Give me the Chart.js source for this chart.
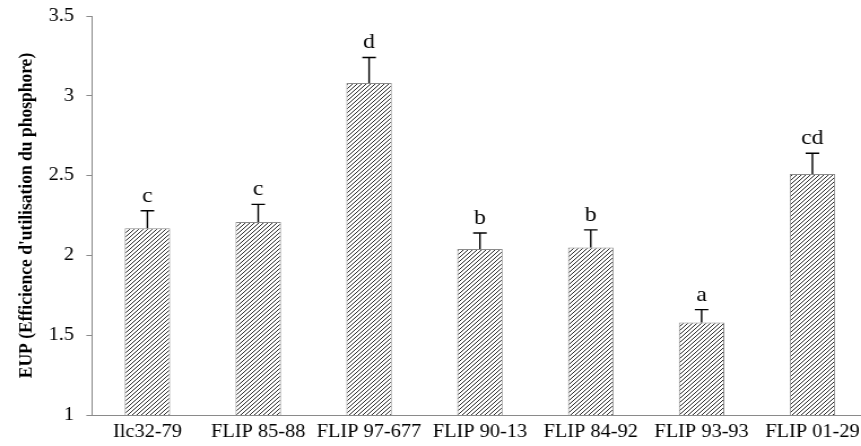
<!DOCTYPE html>
<html>
<head>
<meta charset="utf-8">
<script src="https://cdn.jsdelivr.net/npm/chart.js@4"></script>
<style>
  html, body { margin: 0; padding: 0; background: #fff; overflow: hidden; }
  /* the original figure is slightly stretched sideways */
  #wrap { width: 770px; height: 446px; transform: scaleX(1.13); transform-origin: 0 0; }
</style>
</head>
<body>
<div id="wrap"><canvas id="eupChart"></canvas></div>
<script>
// Data
const genotypes = ['Ilc32-79', 'FLIP 85-88', 'FLIP 97-677', 'FLIP 90-13', 'FLIP 84-92', 'FLIP 93-93', 'FLIP 01-29'];
const eupMeans = [2.17, 2.21, 3.08, 2.04, 2.05, 1.58, 2.51];
const eupErrors = [0.11, 0.11, 0.16, 0.10, 0.11, 0.08, 0.13];
const groupLetters = ['c', 'c', 'd', 'b', 'b', 'a', 'cd'];
const yTicks = [1, 1.5, 2, 2.5, 3, 3.5];

const serif = '"Liberation Serif", "Times New Roman", serif';

// Hatched fill (///)
function makeHatch() {
    const size = 4;
    const c = document.createElement('canvas');
    c.width = size;
    c.height = size;
    const g = c.getContext('2d');
    g.fillStyle = '#fff';
    g.fillRect(0, 0, size, size);
    g.strokeStyle = '#2a2a2a';
    g.lineWidth = 1;
    g.beginPath();
    g.moveTo(0, size); g.lineTo(size, 0);
    g.moveTo(-1, 1); g.lineTo(1, -1);
    g.moveTo(size - 1, size + 1); g.lineTo(size + 1, size - 1);
    g.stroke();
    return g.createPattern(c, 'repeat');
}

// Error bars + letters drawn through the scales
const errorBarPlugin = {
    id: 'errorBars',
    afterDatasetsDraw(chart) {
        const ctx = chart.ctx;
        const yScale = chart.scales.y;
        const meta = chart.getDatasetMeta(0);
        ctx.save();
        meta.data.forEach((bar, i) => {
            const x = bar.x;
            const yTop = yScale.getPixelForValue(eupMeans[i] + eupErrors[i]);
            ctx.strokeStyle = '#000';
            ctx.lineWidth = 1.4;
            ctx.beginPath();
            ctx.moveTo(x, bar.y);
            ctx.lineTo(x, yTop);
            ctx.moveTo(x - 6, yTop);
            ctx.lineTo(x + 6, yTop);
            ctx.stroke();

            ctx.fillStyle = '#000';
            ctx.font = '21px ' + serif;
            ctx.textAlign = 'center';
            ctx.textBaseline = 'alphabetic';
            ctx.fillText(groupLetters[i], x, yTop - 9);
        });
        ctx.restore();
    }
};

const ctx = document.getElementById('eupChart').getContext('2d');
new Chart(ctx, {
    type: 'bar',
    data: {
        labels: genotypes,
        datasets: [{
            data: eupMeans,
            backgroundColor: makeHatch(),
            borderColor: '#8a8a8a',
            borderWidth: 1,
            barPercentage: 0.41,
            categoryPercentage: 1.0
        }]
    },
    options: {
        responsive: true,
        maintainAspectRatio: false,
        animation: false,
        layout: { padding: { top: 16, right: 2, left: 0, bottom: 0 } },
        plugins: {
            legend: { display: false },
            tooltip: { enabled: false }
        },
        scales: {
            x: {
                grid: { display: false, drawTicks: false },
                border: { color: '#8a8a8a', width: 1 },
                ticks: {
                    color: '#000',
                    padding: 6,
                    maxRotation: 0,
                    autoSkip: false,
                    font: { family: serif, size: 18 }
                },
                afterFit(scale) {
                    scale.height = 31;
                    scale.paddingLeft = 0;
                    scale.paddingRight = 0;
                }
            },
            y: {
                min: 1,
                max: 3.5,
                afterBuildTicks(scale) {
                    scale.ticks = yTicks.map(v => ({ value: v }));
                },
                grid: {
                    display: true,
                    drawOnChartArea: false,
                    drawTicks: true,
                    tickLength: 5,
                    color: '#8a8a8a'
                },
                border: { color: '#8a8a8a', width: 1 },
                ticks: {
                    color: '#000',
                    padding: 11,
                    font: { family: serif, size: 18 },
                    callback: v => String(v)
                },
                title: {
                    display: true,
                    text: "EUP (Efficience d'utilisation du phosphore)",
                    color: '#000',
                    font: { family: serif, size: 17.5, weight: 'bold' },
                    padding: { top: 13, bottom: 0 }
                },
                afterFit(scale) {
                    scale.width = 81.4;
                    scale.paddingTop = 0;
                    scale.paddingBottom = 0;
                }
            }
        }
    },
    plugins: [errorBarPlugin]
});
</script>
</body>
</html>
